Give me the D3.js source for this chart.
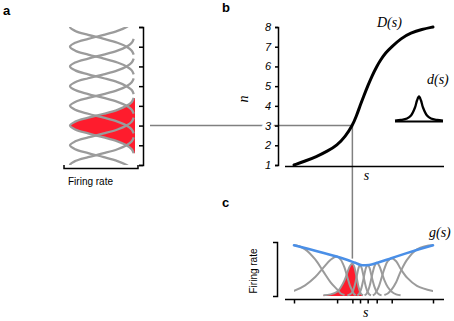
<!DOCTYPE html>
<html>
<head>
<meta charset="utf-8">
<script src="https://cdn.jsdelivr.net/npm/d3@7"></script>
<style>
  body { margin: 0; background: #fff; }
  svg { display: block; font-family: "Liberation Sans", Arial, sans-serif; }
  .math { font-family: "Liberation Serif", "DejaVu Serif", serif; font-style: italic; }
  .ax path, .ax line { stroke: #000; stroke-width: 1.5; fill: none; }
</style>
</head>
<body>
<script>
// neurons: preferred level n, preferred stimulus s (ticks in c), peak gain
var prefN = [1, 2, 3, 4, 5, 6, 7, 8];
var prefS = [0, 31, 42, 47.5, 53, 59.5, 70.3, 100];
var gains = [0.94, 0.73, 0.60, 0.57, 0.575, 0.615, 0.70, 0.94];
var nTicks = [1, 2, 3, 4, 5, 6, 7, 8];
var highlight = 3;

// one tuning bump (offset in n, relative rate)
var bumpOff  = [-1.4, -1.2, -1, -0.8, -0.6, -0.4, -0.2, 0, 0.2, 0.4, 0.6, 0.8, 1, 1.2, 1.4];
var bumpRate = [0.02, 0.05, 0.13, 0.27, 0.48, 0.72, 0.92, 1, 0.92, 0.72, 0.48, 0.27, 0.13, 0.05, 0.02];

// D(s) in panel b
var dS = [0, 8, 16, 24, 31, 37, 42, 45, 47.5, 50.2, 53, 56, 59.5, 62.5, 66, 70.3, 77, 84, 92, 100];
var dN = [1.0, 1.2, 1.42, 1.7, 2.0, 2.45, 3.0, 3.5, 4.0, 4.5, 5.0, 5.5, 6.0, 6.35, 6.7, 7.0, 7.42, 7.7, 7.88, 8.0];

// d(s) inset
var insetX = [-12, -9, -6, -4, -2, -1, 0, 1, 2, 4, 6, 9, 12];
var insetY = [0.03, 0.06, 0.12, 0.24, 0.56, 0.84, 1, 0.84, 0.56, 0.24, 0.12, 0.06, 0.03];

// gain envelope g(s) in panel c
var gS = [0, 10, 20, 30, 38, 44, 49, 54, 60, 70, 80, 90, 100];
var gR = [0.94, 0.875, 0.805, 0.735, 0.67, 0.615, 0.57, 0.575, 0.615, 0.7, 0.785, 0.865, 0.94];

var gray = "#9b9b9b", red = "#fe1c2d", blue = "#4a8fe7";

var svg = d3.select("body").append("svg")
  .attr("width", 454)
  .attr("height", 321);

var nScale = d3.scaleLinear().domain([1, 8]).range([165, 27]);
var rateA  = d3.scaleLinear().domain([0, 1]).range([135, 70]);
var sScale = d3.scaleLinear().domain([0, 100]).range([294, 433]);
var rateC  = d3.scaleLinear().domain([0, 1]).range([296, 242]);
var nToS   = d3.scaleLinear().domain(dN).range(dS);
var inX    = d3.scaleLinear().domain([-12, 12]).range([395, 443]);
var inY    = d3.scaleLinear().domain([0, 1]).range([121.5, 96.5]);

function bump (i) {
  return bumpOff.map(function (o, k) { return [prefN[i] + o, bumpRate[k]]; });
}

var defs = svg.append("defs");
defs.append("clipPath").attr("id", "clipA").append("rect")
  .attr("x", 40).attr("y", nScale(8))
  .attr("width", 100).attr("height", nScale(1) - nScale(8));
defs.append("clipPath").attr("id", "clipC").append("rect")
  .attr("x", sScale(0)).attr("y", 225)
  .attr("width", sScale(100) - sScale(0)).attr("height", 75);

// ---- panel a
var ga = svg.append("g").attr("clip-path", "url(#clipA)");
var hi = prefN.indexOf(highlight);

ga.append("path")
  .datum(bump(hi))
  .attr("fill", red)
  .attr("d", d3.area()
    .y(function (d) { return nScale(d[0]); })
    .x0(rateA(0))
    .x1(function (d) { return rateA(d[1]); })
    .curve(d3.curveCatmullRom));

var lineA = d3.line()
  .x(function (d) { return rateA(d[1]); })
  .y(function (d) { return nScale(d[0]); })
  .curve(d3.curveCatmullRom);

ga.selectAll("path.tc")
  .data(prefN.map(function (n, i) { return bump(i); }))
  .enter()
  .append("path")
  .attr("class", "tc")
  .attr("fill", "none")
  .attr("stroke", gray)
  .attr("stroke-width", 2.3)
  .attr("d", lineA);

svg.append("g")
  .attr("class", "ax")
  .attr("transform", "translate(143,0)")
  .call(d3.axisLeft(nScale).tickValues(nTicks).tickSize(4).tickSizeOuter(4).tickFormat(""));

svg.append("path")
  .attr("fill", "none").attr("stroke", "#000").attr("stroke-width", 1.5)
  .attr("d", "M64,165V168.5H138V165");

svg.append("text")
  .attr("x", 68).attr("y", 185)
  .attr("font-size", 10)
  .text("Firing rate");

// connector lines
var x3 = sScale(prefS[hi]), y3 = nScale(highlight);
svg.append("line")
  .attr("x1", 150).attr("x2", x3).attr("y1", y3).attr("y2", y3)
  .attr("stroke", "#808080").attr("stroke-width", 1.5);
svg.append("line")
  .attr("x1", x3).attr("x2", x3).attr("y1", y3).attr("y2", rateC(gains[hi]) - 5)
  .attr("stroke", "#808080").attr("stroke-width", 1.5);

// ---- panel b
var yAxisB = svg.append("g")
  .attr("class", "ax")
  .attr("transform", "translate(278,0)")
  .call(d3.axisLeft(nScale).tickValues(nTicks).tickSize(3).tickPadding(4).tickFormat(d3.format("d")));
yAxisB.selectAll("text")
  .attr("font-size", 11)
  .attr("font-style", "italic")
  .attr("font-family", "'Liberation Sans', Arial, sans-serif")
  .attr("fill", "#000")
  .attr("stroke", function (d) { return d === highlight ? "#fff" : null; })
  .attr("stroke-width", 6)
  .attr("paint-order", "stroke");

svg.append("line")
  .attr("x1", sScale(0) - 9).attr("x2", sScale(100) + 11)
  .attr("y1", nScale(1) + 1.5).attr("y2", nScale(1) + 1.5)
  .attr("stroke", "#000").attr("stroke-width", 1.5);

svg.append("path")
  .datum(d3.zip(dS, dN))
  .attr("fill", "none")
  .attr("stroke", "#000")
  .attr("stroke-width", 3)
  .attr("stroke-linecap", "round")
  .attr("d", d3.line()
    .x(function (d) { return sScale(d[0]); })
    .y(function (d) { return nScale(d[1]); })
    .curve(d3.curveBasis));

svg.append("line")
  .attr("x1", inX(-12)).attr("x2", inX(12))
  .attr("y1", inY(0)).attr("y2", inY(0))
  .attr("stroke", "#000").attr("stroke-width", 1.8);
svg.append("path")
  .datum(d3.zip(insetX, insetY))
  .attr("fill", "none")
  .attr("stroke", "#000")
  .attr("stroke-width", 2.3)
  .attr("d", d3.line()
    .x(function (d) { return inX(d[0]); })
    .y(function (d) { return inY(d[1]); })
    .curve(d3.curveCatmullRom));

svg.append("text").attr("class", "math").attr("x", 377).attr("y", 27).attr("font-size", 14).text("D(s)");
svg.append("text").attr("class", "math").attr("x", 427).attr("y", 84).attr("font-size", 14).text("d(s)");
svg.append("text").attr("class", "math").attr("x", 366.5).attr("y", 180).attr("font-size", 14)
  .attr("text-anchor", "middle").text("s");
svg.append("text").attr("class", "math")
  .attr("transform", "translate(248,99) rotate(-90)")
  .attr("font-size", 14).attr("text-anchor", "middle").text("n");

// ---- panel c
var gc = svg.append("g").attr("clip-path", "url(#clipC)");

function cPoints (i) {
  return bump(i).map(function (p) { return [p[0], p[1] * gains[i]]; });
}

gc.append("path")
  .datum(cPoints(hi))
  .attr("fill", red)
  .attr("d", d3.area()
    .x(function (d) { return sScale(nToS(d[0])); })
    .y0(rateC(0))
    .y1(function (d) { return rateC(d[1]); })
    .curve(d3.curveCatmullRom));

gc.selectAll("path.tc")
  .data(prefN.map(function (n, i) { return cPoints(i); }))
  .enter()
  .append("path")
  .attr("class", "tc")
  .attr("fill", "none")
  .attr("stroke", gray)
  .attr("stroke-width", 2)
  .attr("d", d3.line()
    .x(function (d) { return sScale(nToS(d[0])); })
    .y(function (d) { return rateC(d[1]); })
    .curve(d3.curveCatmullRom));

svg.append("path")
  .datum(d3.zip(gS, gR))
  .attr("fill", "none")
  .attr("stroke", blue)
  .attr("stroke-width", 2.6)
  .attr("stroke-linecap", "round")
  .attr("d", d3.line()
    .x(function (d) { return sScale(d[0]); })
    .y(function (d) { return rateC(d[1]); })
    .curve(d3.curveMonotoneX));

svg.append("g")
  .attr("class", "ax")
  .attr("transform", "translate(277,0)")
  .call(d3.axisLeft(rateC).tickValues([]).tickSizeOuter(4));

svg.append("line")
  .attr("x1", sScale(0) - 9).attr("x2", sScale(100) + 11)
  .attr("y1", 299.5).attr("y2", 299.5)
  .attr("stroke", "#000").attr("stroke-width", 1.5);
svg.append("g")
  .attr("class", "ax")
  .attr("transform", "translate(0,299.5)")
  .call(d3.axisBottom(sScale).tickValues(prefS).tickSize(4).tickFormat(""))
  .select(".domain").remove();

svg.append("text").attr("class", "math").attr("x", 429).attr("y", 237).attr("font-size", 14).text("g(s)");
svg.append("text").attr("class", "math").attr("x", 365.7).attr("y", 317).attr("font-size", 14)
  .attr("text-anchor", "middle").text("s");
svg.append("text")
  .attr("transform", "translate(256.5,271) rotate(-90)")
  .attr("font-size", 10).attr("text-anchor", "middle").text("Firing rate");

// panel letters
svg.append("text").attr("x", 3).attr("y", 15).attr("font-size", 13).attr("font-weight", "bold").text("a");
svg.append("text").attr("x", 222).attr("y", 11.5).attr("font-size", 13).attr("font-weight", "bold").text("b");
svg.append("text").attr("x", 222).attr("y", 207).attr("font-size", 13).attr("font-weight", "bold").text("c");
</script>
</body>
</html>
